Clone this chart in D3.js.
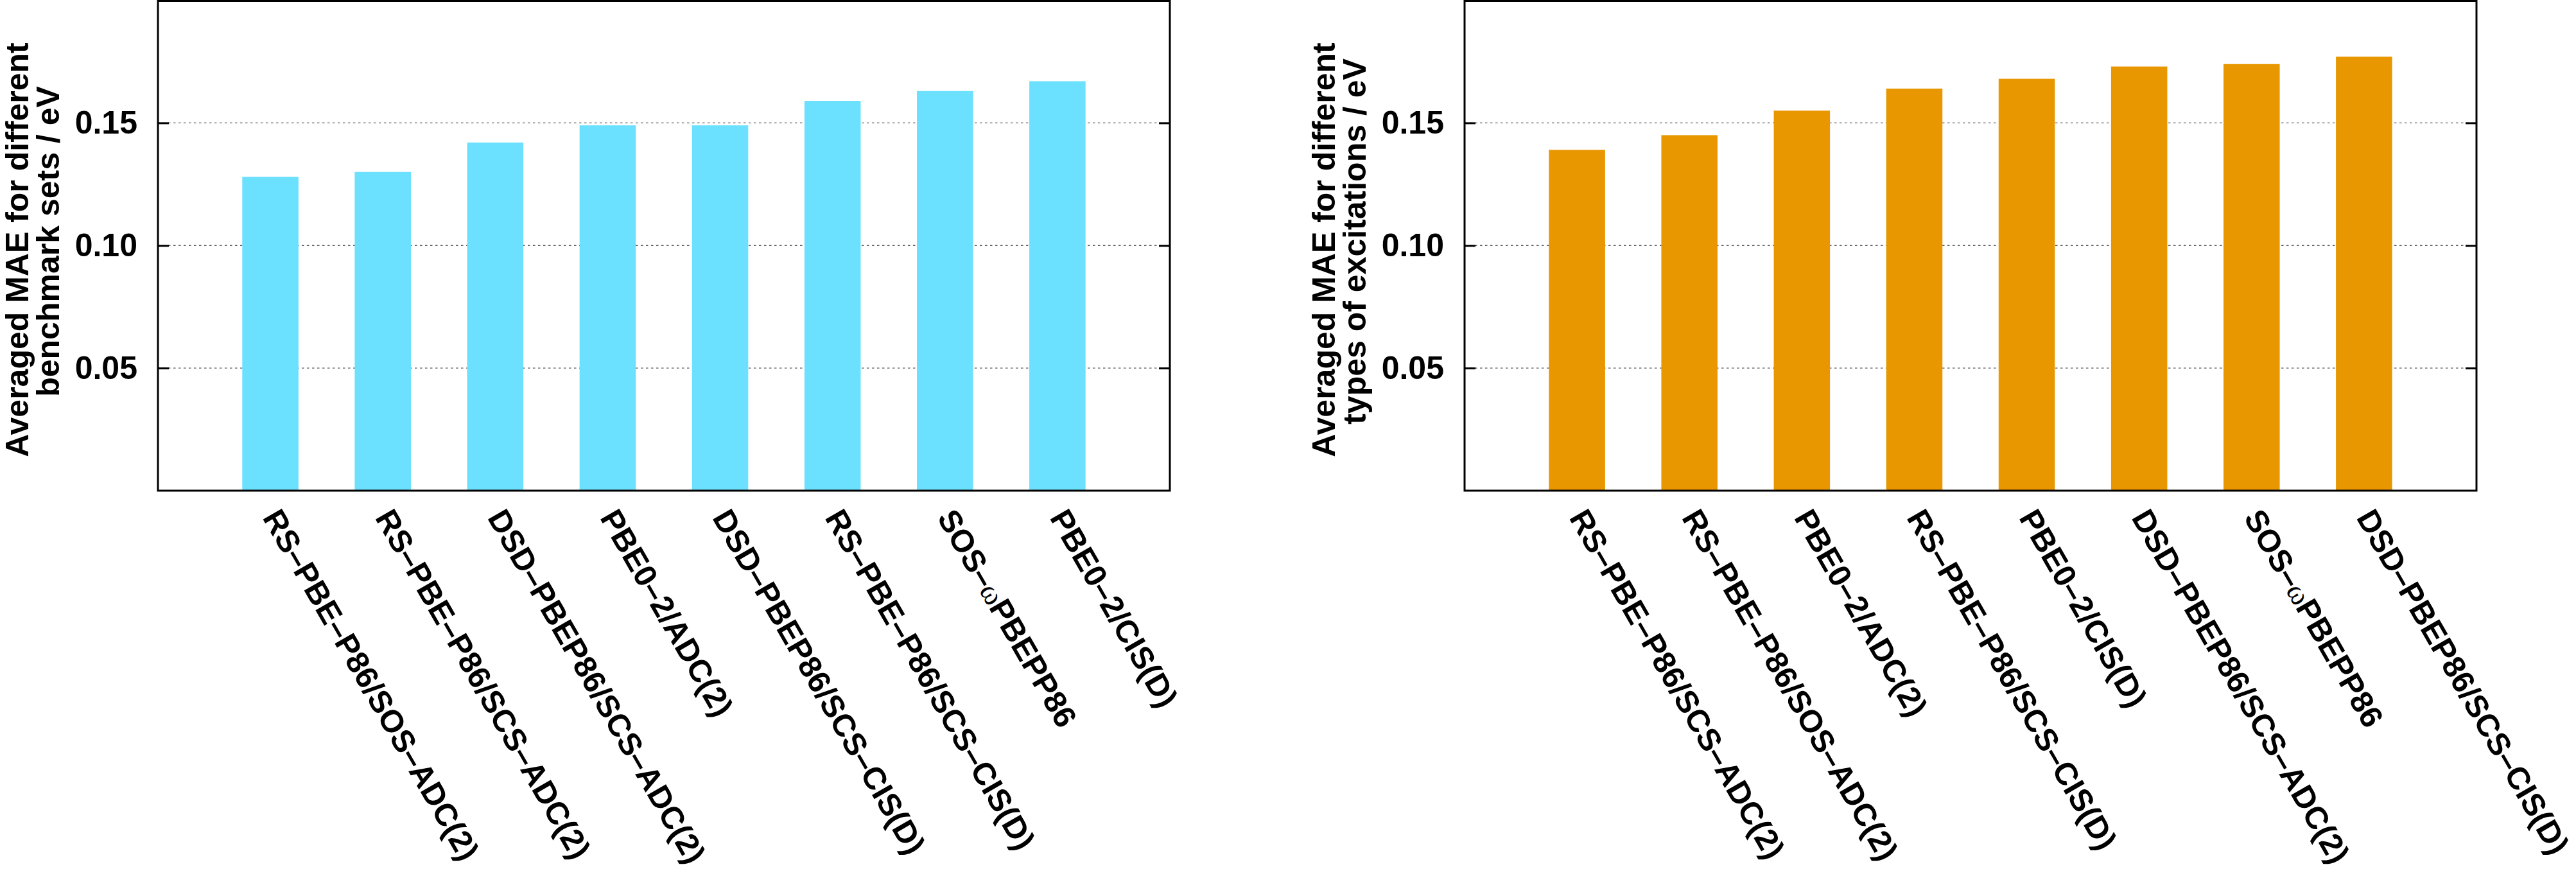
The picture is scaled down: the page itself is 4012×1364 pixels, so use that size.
<!DOCTYPE html>
<html><head><meta charset="utf-8">
<script src="https://cdn.jsdelivr.net/npm/d3@7"></script>
<style>body{margin:0;background:#fff} svg{display:block}</style>
</head><body>
<script>
// ---- data ----
const benchmarkCategories = [
  "RS–PBE–P86/SOS–ADC(2)",
  "RS–PBE–P86/SCS–ADC(2)",
  "DSD–PBEP86/SCS–ADC(2)",
  "PBE0–2/ADC(2)",
  "DSD–PBEP86/SCS–CIS(D)",
  "RS–PBE–P86/SCS–CIS(D)",
  "SOS–ωPBEPP86",
  "PBE0–2/CIS(D)"
];
const benchmarkValues = [0.128, 0.130, 0.142, 0.149, 0.149, 0.159, 0.163, 0.167];

const excitationCategories = [
  "RS–PBE–P86/SCS–ADC(2)",
  "RS–PBE–P86/SOS–ADC(2)",
  "PBE0–2/ADC(2)",
  "RS–PBE–P86/SCS–CIS(D)",
  "PBE0–2/CIS(D)",
  "DSD–PBEP86/SCS–ADC(2)",
  "SOS–ωPBEPP86",
  "DSD–PBEP86/SCS–CIS(D)"
];
const excitationValues = [0.139, 0.145, 0.155, 0.164, 0.168, 0.173, 0.174, 0.177];

const yTickValues = [0.05, 0.10, 0.15];
const yTickLabels = ["0.05", "0.10", "0.15"];
const yLabelBenchmark = ["Averaged MAE for different", "benchmark sets / eV"];
const yLabelExcitation = ["Averaged MAE for different", "types of excitations / eV"];

// ---- drawing ----
const W = 4012, H = 1364;
const FONT = "'Liberation Sans', Arial, Helvetica, sans-serif";
const svg = d3.select("body").append("svg").attr("width", W).attr("height", H);

function panel(left, right, cats, vals, color, ylab) {
  const top = 0.5, bottom = 764;
  const x = d3.scaleLinear().domain([0, cats.length + 1]).range([left, right]);
  const y = d3.scaleLinear().domain([0, 0.2]).range([bottom, top]);
  const g = svg.append("g");

  // grid
  g.selectAll("line.grid").data(yTickValues).join("line")
    .attr("class", "grid")
    .attr("x1", left).attr("x2", right)
    .attr("y1", d => y(d)).attr("y2", d => y(d))
    .attr("stroke", "#555").attr("stroke-width", 1.3)
    .attr("stroke-dasharray", "3.5,4.5");

  // bars
  g.selectAll("rect.bar").data(vals).join("rect")
    .attr("class", "bar")
    .attr("x", (d, i) => x(i + 1 - 0.25))
    .attr("width", x(0.5) - x(0))
    .attr("y", d => y(d))
    .attr("height", d => y(0) - y(d))
    .attr("fill", color);

  // left axis (inward ticks)
  const ax = g.append("g").attr("transform", `translate(${left},0)`)
    .call(d3.axisLeft(y).tickValues(yTickValues)
      .tickFormat((d, i) => yTickLabels[i])
      .tickSizeInner(-17).tickSizeOuter(0).tickPadding(32));
  ax.select(".domain").remove();
  ax.selectAll(".tick line").attr("stroke", "#000").attr("stroke-width", 3);
  ax.selectAll(".tick text").attr("font-family", FONT).attr("font-weight", "bold")
    .attr("font-size", 50).attr("fill", "#000");

  // right mirror ticks
  const axr = g.append("g").attr("transform", `translate(${right},0)`)
    .call(d3.axisRight(y).tickValues(yTickValues).tickFormat("")
      .tickSizeInner(-17).tickSizeOuter(0));
  axr.select(".domain").remove();
  axr.selectAll(".tick line").attr("stroke", "#000").attr("stroke-width", 3);

  // category labels (rotated)
  const lab = g.selectAll("text.cat").data(cats).join("text")
    .attr("class", "cat")
    .attr("transform", (d, i) => `translate(${x(i + 1) - 13},${bottom + 42}) rotate(60)`)
    .attr("font-family", FONT).attr("font-weight", "bold").attr("font-size", 49)
    .attr("fill", "#000").attr("text-anchor", "start");
  lab.each(function(d) {
    const t = d3.select(this);
    const parts = d.split("ω");
    parts.forEach((p, k) => {
      if (k > 0) {
        t.append("tspan").text("ω")
          .attr("font-family", "'Liberation Serif', 'DejaVu Serif', serif")
          .attr("font-weight", "normal").attr("font-size", 46);
      }
      if (p.length) t.append("tspan").text(p);
    });
  });

  // y-axis label
  const cy = [389, 376];
  const bx = [left - 202, left - 154];
  ylab.forEach((s, k) => {
    svg.append("text")
      .attr("transform", `translate(${bx[k]},${cy[k]}) rotate(-90)`)
      .attr("text-anchor", "middle")
      .attr("font-family", FONT).attr("font-weight", "bold").attr("font-size", 50)
      .attr("fill", "#000").text(s);
  });

  // frame
  g.append("rect").attr("x", left).attr("y", top + 1)
    .attr("width", right - left).attr("height", bottom - top - 1)
    .attr("fill", "none").attr("stroke", "#000").attr("stroke-width", 3);
}

panel(246, 1822, benchmarkCategories, benchmarkValues, "#6BE0FF", yLabelBenchmark);
panel(2281, 3857, excitationCategories, excitationValues, "#E89700", yLabelExcitation);
</script>
</body></html>
